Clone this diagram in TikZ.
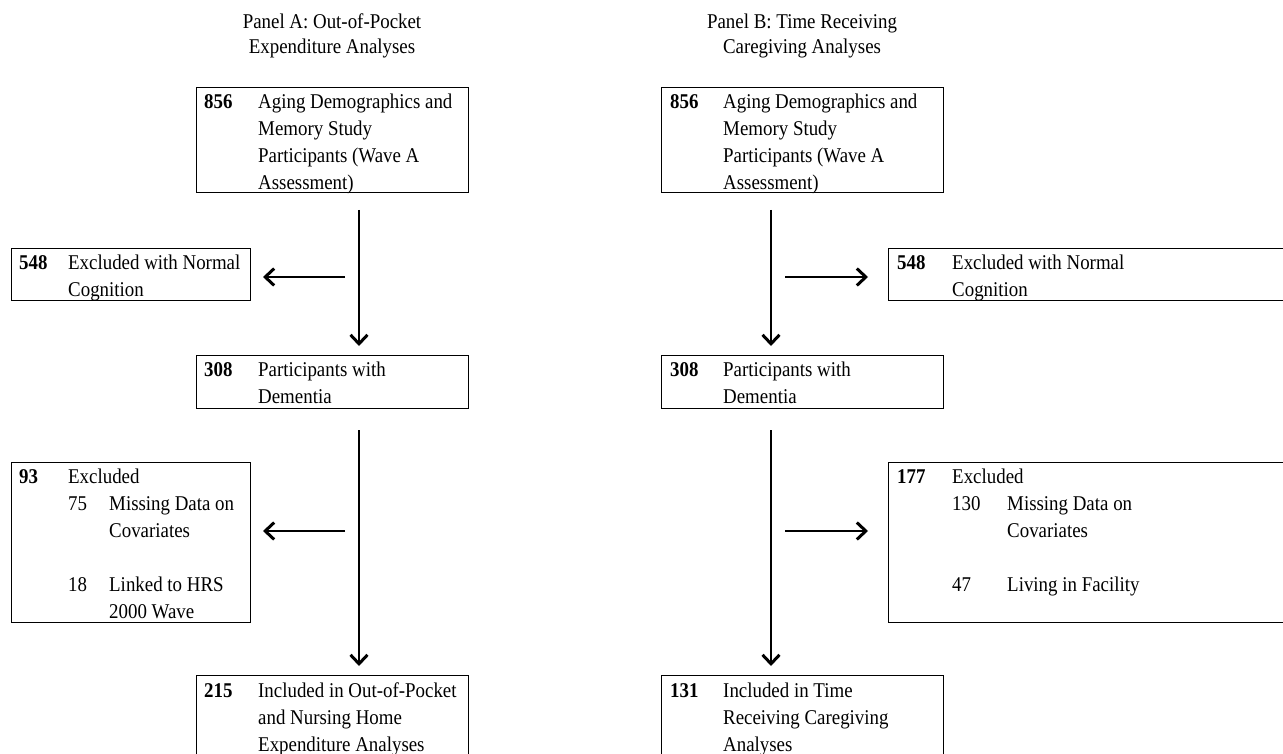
\documentclass[tikz,border=0pt]{standalone}
\usepackage{fontspec}
\setmainfont{Liberation Serif}[FakeStretch=0.9]
\usetikzlibrary{arrows.meta}
\tikzset{
  box/.style={draw=black, line width=1.2pt, inner sep=0pt, anchor=north west, fill=none},
  txt/.style={anchor=north west, inner sep=0pt, align=left, yshift=18.9pt,
              font=\fontsize{21}{27}\selectfont},
  num/.style={txt, font=\fontsize{21}{27}\selectfont\bfseries},
  ttl/.style={anchor=north, inner sep=0pt, align=center, yshift=17.5pt,
              font=\fontsize{21}{25}\selectfont},
  arr/.style={line width=1.4pt, -{Straight Barb[length=9pt,width=17pt,line width=3pt]}}
}
\begin{document}
\begin{tikzpicture}[x=1pt,y=-1pt]
\useasboundingbox (0,0) rectangle (1283,754);
\clip (0,0) rectangle (1283,754);
\fill[white] (0,0) rectangle (1283,754);

% titles
\node[ttl] (ta) at (332,28) {\strut Panel A: Out-of-Pocket\\Expenditure Analyses};
\node[ttl] (tb) at (802,28) {\strut Panel B: Time Receiving\\Caregiving Analyses};

% ---------- Panel A ----------
\node[box, minimum width=272pt, minimum height=105pt] (a1) at (196,87) {};
\node[num] (a1n) at (204,108) {\strut 856};
\node[txt] (a1t) at (258,108) {\strut Aging Demographics and\\Memory Study\\Participants (Wave A\\Assessment)};

\node[box, minimum width=239pt, minimum height=52pt] (a2) at (11,248) {};
\node[num] (a2n) at (19,269) {\strut 548};
\node[txt] (a2t) at (68,269) {\strut Excluded with Normal\\Cognition};

\node[box, minimum width=272pt, minimum height=53pt] (a3) at (196,355) {};
\node[num] (a3n) at (204,376) {\strut 308};
\node[txt] (a3t) at (258,376) {\strut Participants with\\Dementia};

\node[box, minimum width=239pt, minimum height=160pt] (a4) at (11,462) {};
\node[num] (a4n) at (19,483) {\strut 93};
\node[txt] (a4t) at (68,483) {\strut Excluded};
\node[txt] (a4m) at (68,510) {\strut 75};
\node[txt] (a4mt) at (109,510) {\strut Missing Data on\\Covariates};
\node[txt] (a4l) at (68,591) {\strut 18};
\node[txt] (a4lt) at (109,591) {\strut Linked to HRS\\2000 Wave};

\node[box, minimum width=272pt, minimum height=110pt] (a5) at (196,675) {};
\node[num] (a5n) at (204,697) {\strut 215};
\node[txt] (a5t) at (258,697) {\strut Included in Out-of-Pocket\\and Nursing Home\\Expenditure Analyses};

% ---------- Panel B ----------
\node[box, minimum width=282pt, minimum height=105pt] (b1) at (661,87) {};
\node[num] (b1n) at (670,108) {\strut 856};
\node[txt] (b1t) at (723,108) {\strut Aging Demographics and\\Memory Study\\Participants (Wave A\\Assessment)};

\node[box, minimum width=420pt, minimum height=52pt] (b2) at (888,248) {};
\node[num] (b2n) at (897,269) {\strut 548};
\node[txt] (b2t) at (952,269) {\strut Excluded with Normal\\Cognition};

\node[box, minimum width=282pt, minimum height=53pt] (b3) at (661,355) {};
\node[num] (b3n) at (670,376) {\strut 308};
\node[txt] (b3t) at (723,376) {\strut Participants with\\Dementia};

\node[box, minimum width=420pt, minimum height=160pt] (b4) at (888,462) {};
\node[num] (b4n) at (897,483) {\strut 177};
\node[txt] (b4t) at (952,483) {\strut Excluded};
\node[txt] (b4m) at (952,510) {\strut 130};
\node[txt] (b4mt) at (1007,510) {\strut Missing Data on\\Covariates};
\node[txt] (b4l) at (952,591) {\strut 47};
\node[txt] (b4lt) at (1007,591) {\strut Living in Facility};

\node[box, minimum width=282pt, minimum height=110pt] (b5) at (661,675) {};
\node[num] (b5n) at (670,697) {\strut 131};
\node[txt] (b5t) at (723,697) {\strut Included in Time\\Receiving Caregiving\\Analyses};

% ---------- connectors ----------
\coordinate (av1s) at (359,210);
\coordinate (av1e) at (359,346);
\coordinate (av2s) at (359,430);
\coordinate (av2e) at (359,666);
\coordinate (ah1s) at (345,277);
\coordinate (ah1e) at (263,277);
\coordinate (ah2s) at (345,531);
\coordinate (ah2e) at (263,531);
\coordinate (bv1s) at (771,210);
\coordinate (bv1e) at (771,346);
\coordinate (bv2s) at (771,430);
\coordinate (bv2e) at (771,666);
\coordinate (bh1s) at (785,277);
\coordinate (bh1e) at (868,277);
\coordinate (bh2s) at (785,531);
\coordinate (bh2e) at (868,531);

\draw[arr] (av1s) -- (av1e);
\draw[arr] (av2s) -- (av2e);
\draw[arr] (ah1s) -- (ah1e);
\draw[arr] (ah2s) -- (ah2e);
\draw[arr] (bv1s) -- (bv1e);
\draw[arr] (bv2s) -- (bv2e);
\draw[arr] (bh1s) -- (bh1e);
\draw[arr] (bh2s) -- (bh2e);
\end{tikzpicture}
\end{document}
